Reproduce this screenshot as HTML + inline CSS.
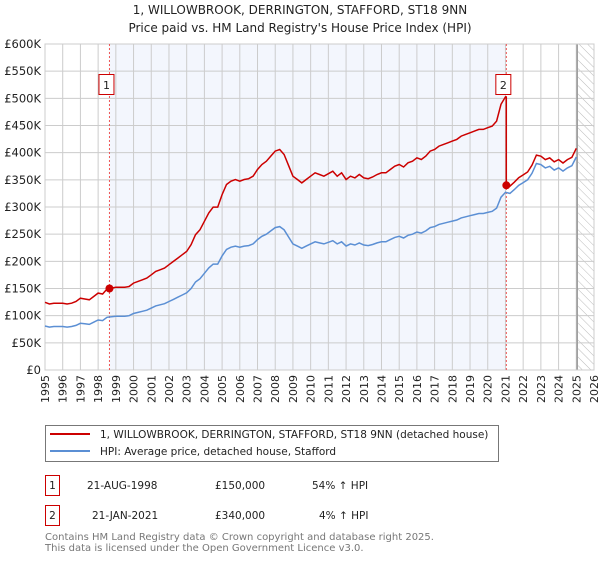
<!DOCTYPE html>
<html><head><meta charset="utf-8"><style>
body{margin:0;background:#fff;width:600px;height:560px;overflow:hidden;font-family:"DejaVu Sans","Liberation Sans",sans-serif}
svg text{font-family:"DejaVu Sans","Liberation Sans",sans-serif}
</style></head><body>
<svg id="chart" width="600" height="560">
<defs><pattern id="hatch" width="6" height="6" patternUnits="userSpaceOnUse" patternTransform="rotate(-45)"><line x1="0" y1="0" x2="0" y2="6" stroke="#bbb" stroke-width="1"/></pattern></defs>
<text x="300" y="14" text-anchor="middle" font-size="12" fill="#222">1, WILLOWBROOK, DERRINGTON, STAFFORD, ST18 9NN</text>
<text x="300" y="32" text-anchor="middle" font-size="12" fill="#222">Price paid vs. HM Land Registry's House Price Index (HPI)</text>
<g id="plot"></g>
<g id="legend">
<rect x="45.5" y="425.5" width="453" height="36" fill="#fff" stroke="#777"/>
<line x1="50" y1="434" x2="90" y2="434" stroke="#cc0000" stroke-width="2"/>
<text x="100" y="438" font-size="10.5" fill="#222">1, WILLOWBROOK, DERRINGTON, STAFFORD, ST18 9NN (detached house)</text>
<line x1="50" y1="451" x2="90" y2="451" stroke="#5b8fd4" stroke-width="2"/>
<text x="100" y="455" font-size="10.5" fill="#222">HPI: Average price, detached house, Stafford</text>
</g>
<g>
<rect x="45.5" y="475.5" width="14" height="20" fill="#fff" stroke="#cc0000"/>
<text x="52.5" y="489" text-anchor="middle" font-size="10.5" fill="#222">1</text>
<text x="87" y="489" font-size="10.5" fill="#222">21-AUG-1998</text>
<text x="215" y="489" font-size="10.5" fill="#222">£150,000</text>
<text x="312" y="489" font-size="10.5" fill="#222">54% ↑ HPI</text>
<rect x="45.5" y="505.5" width="14" height="20" fill="#fff" stroke="#cc0000"/>
<text x="52.5" y="519" text-anchor="middle" font-size="10.5" fill="#222">2</text>
<text x="92" y="519" font-size="10.5" fill="#222">21-JAN-2021</text>
<text x="215" y="519" font-size="10.5" fill="#222">£340,000</text>
<text x="319" y="519" font-size="10.5" fill="#222">4% ↑ HPI</text>
</g>
<text x="45" y="540" font-size="10" fill="#777">Contains HM Land Registry data © Crown copyright and database right 2025.</text>
<text x="45" y="551" font-size="10" fill="#777">This data is licensed under the Open Government Licence v3.0.</text>
</svg>
<script>
const yearTicks=[1995,1996,1997,1998,1999,2000,2001,2002,2003,2004,2005,2006,2007,2008,2009,2010,2011,2012,2013,2014,2015,2016,2017,2018,2019,2020,2021,2022,2023,2024,2025,2026];
const priceTicks=[0,50,100,150,200,250,300,350,400,450,500,550,600];
const priceLabels=["£0","£50K","£100K","£150K","£200K","£250K","£300K","£350K","£400K","£450K","£500K","£550K","£600K"];
const hpiStartYear=1995;
const hpiQuarterly=[81,79,80,80, 80,79,80,82, 86,85,84,88, 92,91,97,98, 99,99,99,100, 104,106,108,110, 114,118,120,122, 126,130,134,138, 142,150,162,168, 178,188,195,195, 210,222,226,228, 226,228,229,232, 240,246,250,256, 262,264,258,245, 232,228,224,228, 232,236,234,232, 235,238,232,236, 228,232,230,234, 230,229,231,234, 236,236,240,244, 246,243,248,250, 254,252,256,262, 264,268,270,272, 274,276,280,282, 284,286,288,288, 290,292,298,318, 327,325,332,340, 345,350,362,380, 378,372,375,368, 372,366,372,376, 392];
const saleDates=[1998.64,2021.05];
const salePrices=[150,340];
const saleLabels=["1","2"];
const X0=45,X1=594,Y0=370,Y1=44;
const xs=y=>X0+(y-1995)/(2026-1995)*(X1-X0);
const ys=v=>Y0-v/600*(Y0-Y1);
const NS="http://www.w3.org/2000/svg";
const plot=document.getElementById('plot');
function mk(tag,attrs,parent){const e=document.createElementNS(NS,tag);for(const k in attrs)e.setAttribute(k,attrs[k]);(parent||plot).appendChild(e);return e;}
let r=mk('rect',{x:xs(saleDates[0]),y:Y1,width:xs(saleDates[1])-xs(saleDates[0]),height:Y0-Y1,fill:'#f3f6fd'});


let h=mk('rect',{x:xs(2025.1),y:Y1,width:X1-xs(2025.1),height:Y0-Y1,fill:'url(#hatch)'});


yearTicks.forEach(y=>{
 const l=mk('line',{x1:xs(y),x2:xs(y),y1:Y1,y2:Y0,stroke:'#ccc'});
 
 
 const t=mk('text',{x:0,y:0,'font-size':'11',fill:'#222','text-anchor':'end',transform:`translate(${xs(y)+4},${Y0+5}) rotate(-90)`});
 t.textContent=y;
 
 
});
priceTicks.forEach((v,i)=>{
 const l=mk('line',{x1:X0,x2:X1,y1:ys(v),y2:ys(v),stroke:'#ccc'});
 
 
 const t=mk('text',{x:X0-4,y:ys(v)+4,'font-size':'11.5',fill:'#222','text-anchor':'end'});
 t.textContent=priceLabels[i];
 
 
});
let g=mk('line',{x1:xs(2025.05),x2:xs(2025.05),y1:Y1,y2:Y0,stroke:'#999','stroke-width':1.5});


let b=mk('rect',{x:X0,y:Y1,width:X1-X0,height:Y0-Y1,fill:'none',stroke:'#ccc'});


saleDates.forEach((d,i)=>{
 const l=mk('line',{x1:xs(d),x2:xs(d),y1:Y1,y2:Y0,stroke:'#ee5555','stroke-dasharray':'2,2'});
 
 
});
function hpiAt(t){const f=(t-hpiStartYear)*4;const i=Math.floor(f);if(i>=hpiQuarterly.length-1)return hpiQuarterly[hpiQuarterly.length-1];const a=f-i;return hpiQuarterly[i]*(1-a)+hpiQuarterly[i+1]*a;}
const r1=salePrices[0]/hpiAt(saleDates[0]), r2=salePrices[1]/hpiAt(saleDates[1]);
let bp=[],rp=[];
hpiQuarterly.forEach((v,i)=>{
 const t=hpiStartYear+i/4;
 bp.push(xs(t).toFixed(1)+','+ys(v).toFixed(1));
 if(t<saleDates[1]){rp.push(xs(t).toFixed(1)+','+ys(v*r1).toFixed(1));}
});
rp.push(xs(saleDates[1]).toFixed(1)+','+ys(hpiAt(saleDates[1])*r1).toFixed(1));
rp.push(xs(saleDates[1]).toFixed(1)+','+ys(salePrices[1]).toFixed(1));
hpiQuarterly.forEach((v,i)=>{const t=hpiStartYear+i/4;if(t>saleDates[1])rp.push(xs(t).toFixed(1)+','+ys(v*r2).toFixed(1));});
let bl=mk('polyline',{points:bp.join(' '),fill:'none',stroke:'#5b8fd4','stroke-width':1.5});


let rl=mk('polyline',{points:rp.join(' '),fill:'none',stroke:'#cc0000','stroke-width':1.5});


saleDates.forEach((d,i)=>{
 const c=mk('circle',{cx:xs(d),cy:ys(salePrices[i]),r:4,fill:'#cc0000'});
 
 
 const bx=mk('rect',{x:xs(d)-10.5,y:74.5,width:15,height:20,fill:'#fff',stroke:'#cc0000'});
 
 
 const t=mk('text',{x:xs(d)-3,y:89,'font-size':'11',fill:'#222','text-anchor':'middle'});
 t.textContent=saleLabels[i];
 
 
});
</script>
</body></html>
